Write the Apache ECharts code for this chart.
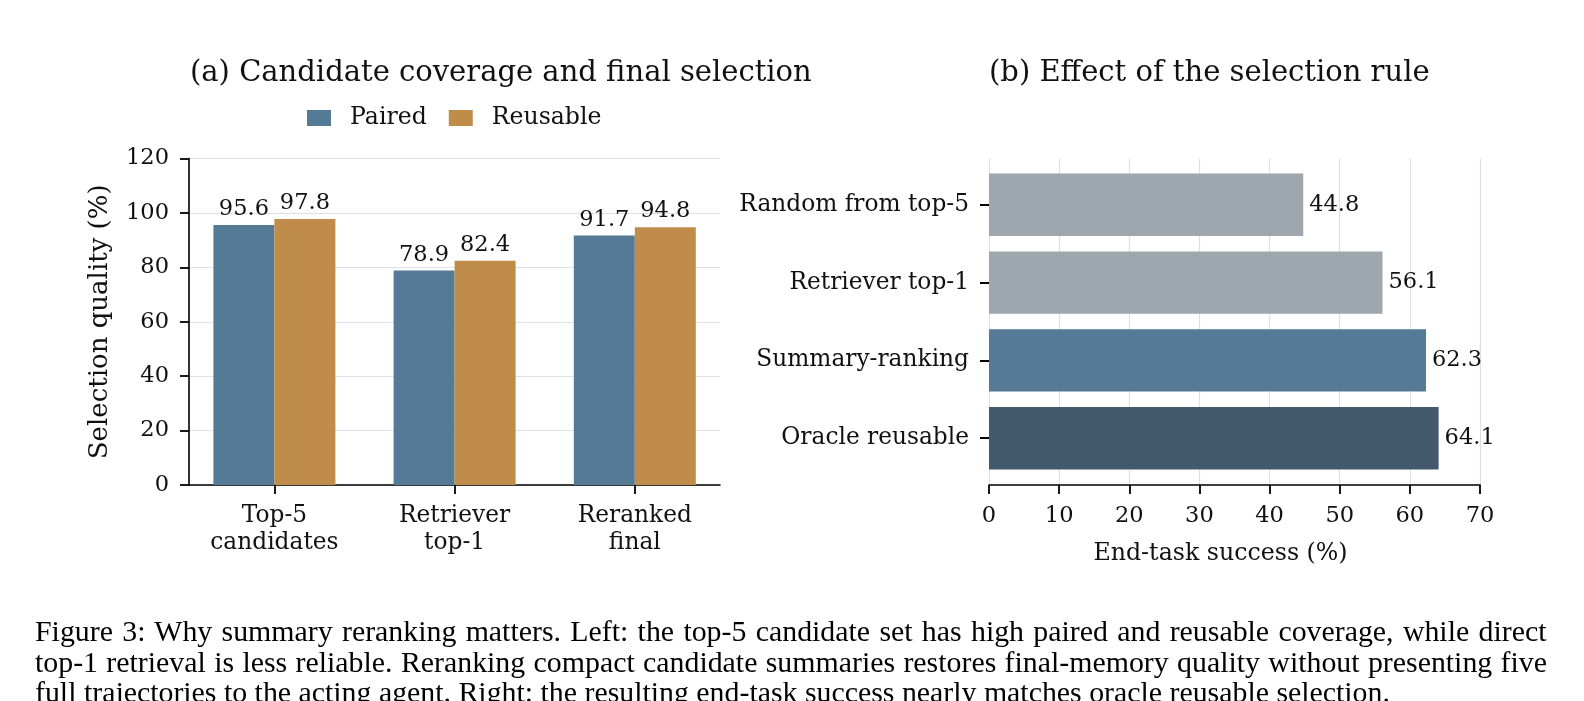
<!DOCTYPE html>
<html>
<head>
<meta charset="utf-8">
<script src="https://cdn.jsdelivr.net/npm/echarts@6/dist/echarts.min.js"></script>
<style>
  html, body { margin: 0; padding: 0; background: #ffffff; }
  #chart { position: absolute; left: 0; top: 0; width: 1584px; height: 701px; }
  .cap { position: absolute; left: 35px; font-family: "Liberation Serif", "Times New Roman", serif;
         font-size: 28.5px; line-height: 30px; height: 30px; white-space: nowrap; color: #000; }
</style>
</head>
<body>
<div id="chart"></div>
<div id="caption"></div>
<script>
// ---- data ----
const leftCategories = ['Top-5\ncandidates', 'Retriever\ntop-1', 'Reranked\nfinal'];
const pairedValues = [95.6, 78.9, 91.7];
const reusableValues = [97.8, 82.4, 94.8];
const leftTicks = [0, 20, 40, 60, 80, 100, 120];

const rightCategories = ['Random from top-5', 'Retriever top-1', 'Summary-ranking', 'Oracle reusable'];
const rightValues = [44.8, 56.1, 62.3, 64.1];
const rightTicks = [0, 10, 20, 30, 40, 50, 60, 70];

const seriesNames = ['Paired', 'Reusable'];
const titleA = '(a) Candidate coverage and final selection';
const titleB = '(b) Effect of the selection rule';
const yNameA = 'Selection quality (%)';
const xNameB = 'End-task success (%)';

const captionLines = [
  'Figure 3: Why summary reranking matters. Left: the top-5 candidate set has high paired and reusable coverage, while direct',
  'top-1 retrieval is less reliable. Reranking compact candidate summaries restores final-memory quality without presenting five',
  'full trajectories to the acting agent. Right: the resulting end-task success nearly matches oracle reusable selection.'
];

// ---- style ----
const FONT = 'DejaVu Serif';
const NUM_FS = 22.5;
const WORD_FS = 23.3;
const C_PAIRED = '#557a96';
const C_REUSE = '#c08c4a';
const rightColors = ['#9ea6ae', '#9ea6ae', '#557a96', '#43596d'];
const GRIDC = '#dde1e6';

// ---- caption (justified lines) ----
function layoutCaption() {
  const box = document.getElementById('caption');
  box.innerHTML = '';
  const cv = document.createElement('canvas').getContext('2d');
  const fam = '"Liberation Serif", "Times New Roman", serif';
  const measure = (s, fs) => { cv.font = fs + 'px ' + fam; return cv.measureText(s).width; };
  // last line (ragged) spans 35 -> 1383 up to the end of "selection"
  const lastNoDot = captionLines[2].replace(/\.$/, '');
  const fs = 28.5 * 1348 / measure(lastNoDot, 28.5);
  const fullW = 1512;
  const tops = [616, 647, 677];
  captionLines.forEach((line, i) => {
    const d = document.createElement('div');
    d.className = 'cap';
    d.textContent = line;
    d.style.top = tops[i] + 'px';
    d.style.fontSize = fs + 'px';
    if (i < captionLines.length - 1) {
      const w = measure(line, fs);
      const n = (line.match(/ /g) || []).length;
      d.style.wordSpacing = ((fullW - w) / n) + 'px';
    }
    box.appendChild(d);
  });
}
if (document.fonts && document.fonts.ready) {
  document.fonts.load('20px "Liberation Serif"').then(layoutCaption, layoutCaption);
} else { layoutCaption(); }
layoutCaption();

const chart = echarts.init(document.getElementById('chart'), null, { renderer: 'canvas' });
const num = { fontFamily: FONT, fontSize: NUM_FS, color: '#111' };
const word = { fontFamily: FONT, fontSize: WORD_FS, color: '#111' };

const option = {
  backgroundColor: '#ffffff',
  animation: false,
  textStyle: { fontFamily: FONT },
  title: [
    { text: titleA, left: 190, top: 59, padding: 0, textStyle: { fontFamily: FONT, fontSize: 29, fontWeight: 'normal', color: '#111' } },
    { text: titleB, left: 989, top: 59, padding: 0, textStyle: { fontFamily: FONT, fontSize: 29, fontWeight: 'normal', color: '#111' } }
  ],
  legend: {
    data: seriesNames,
    left: 307, top: 106, padding: 0,
    icon: 'rect', itemWidth: 24, itemHeight: 16, itemGap: 22,
    textStyle: { fontFamily: FONT, fontSize: 23.6, color: '#111', padding: [0, 0, 0, 14] }
  },
  grid: [
    { left: 189, right: 864, top: 158.6, bottom: 216 },
    { left: 184.3, right: 859.1, top: 158.6, bottom: 216 },
    { left: 989, right: 104, top: 158.6, bottom: 216 },
    { left: 989, right: 104, top: 165.9, bottom: 223.9 }
  ],
  xAxis: [
    { gridIndex: 0, type: 'value', min: 0, max: 1,
      axisLine: { show: true, lineStyle: { color: '#000', width: 1.6 } },
      axisTick: { show: false }, axisLabel: { show: false }, splitLine: { show: false } },
    { gridIndex: 1, type: 'category', data: leftCategories,
      axisLine: { show: false },
      axisTick: { show: true, alignWithLabel: true, length: 9, lineStyle: { color: '#000', width: 1.8 } },
      axisLabel: Object.assign({ margin: 17, lineHeight: 27, interval: 0 }, word),
      splitLine: { show: false } },
    { gridIndex: 2, type: 'value', min: 0, max: 70, interval: 10,
      axisLine: { show: true, lineStyle: { color: '#000', width: 1.6 } },
      axisTick: { show: true, length: 9, lineStyle: { color: '#000', width: 1.8 } },
      axisLabel: Object.assign({ margin: 20, formatter: v => rightTicks.includes(v) ? String(v) : '' }, num),
      splitLine: { show: true, lineStyle: { color: GRIDC, width: 1.2 } },
      name: xNameB, nameLocation: 'middle', nameGap: 57,
      nameTextStyle: { fontFamily: FONT, fontSize: 23.7, color: '#111', padding: [0, 28, 0, 0] } },
    { gridIndex: 3, type: 'value', min: 0, max: 70, show: false }
  ],
  yAxis: [
    { gridIndex: 0, type: 'value', min: 0, max: 120, interval: 20,
      axisLine: { show: true, lineStyle: { color: '#000', width: 1.6 } },
      axisTick: { show: true, length: 9, lineStyle: { color: '#000', width: 1.8 } },
      axisLabel: Object.assign({ margin: 20, formatter: v => leftTicks.includes(v) ? String(v) : '' }, num),
      splitLine: { show: true, lineStyle: { color: GRIDC, width: 1.2 } },
      name: yNameA, nameLocation: 'middle', nameGap: 76, nameRotate: 90,
      nameTextStyle: { fontFamily: FONT, fontSize: 26, color: '#111' } },
    { gridIndex: 1, type: 'value', min: 0, max: 120, show: false },
    { gridIndex: 2, type: 'value', min: 0, max: 1, show: false },
    { gridIndex: 3, type: 'category', data: rightCategories, inverse: true,
      axisLine: { show: false },
      axisTick: { show: true, alignWithLabel: true, length: 9, lineStyle: { color: '#000', width: 2 } },
      axisLabel: Object.assign({ margin: 20 }, word),
      splitLine: { show: false } }
  ],
  series: [
    { name: seriesNames[0], type: 'bar', xAxisIndex: 1, yAxisIndex: 1, data: pairedValues,
      barWidth: 61, barGap: '0%', itemStyle: { color: C_PAIRED },
      label: Object.assign({ show: true, position: 'top', distance: 4, formatter: p => p.value.toFixed(1) }, num) },
    { name: seriesNames[1], type: 'bar', xAxisIndex: 1, yAxisIndex: 1, data: reusableValues,
      barWidth: 61, barGap: '0%', itemStyle: { color: C_REUSE },
      label: Object.assign({ show: true, position: 'top', distance: 4, formatter: p => p.value.toFixed(1) }, num) },
    { name: 'success', type: 'bar', xAxisIndex: 3, yAxisIndex: 3,
      data: rightValues.map((v, i) => ({ value: v, itemStyle: { color: rightColors[i] } })),
      barWidth: 62.4,
      label: Object.assign({ show: true, position: 'right', distance: 6, formatter: p => p.value.toFixed(1) }, num) }
  ]
};
chart.setOption(option);
</script>
</body>
</html>
